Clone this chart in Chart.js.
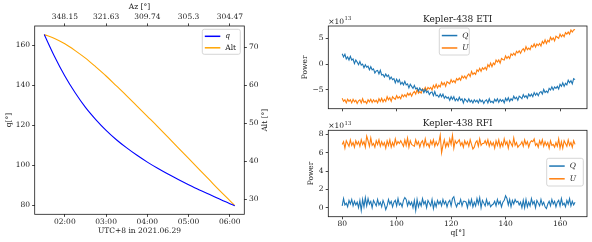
<!DOCTYPE html>
<html>
<head>
<meta charset="utf-8">
<script src="https://cdn.jsdelivr.net/npm/chart.js@4.4.1/dist/chart.umd.min.js"></script>
<style>
  body { margin: 0; background: #fff; }
  #wrap { position: relative; width: 592px; height: 242px; overflow: hidden; }
  canvas { position: absolute; }
</style>
</head>
<body>
<div id="wrap">
  <canvas id="track" width="300" height="242" style="left:0;top:0"></canvas>
  <canvas id="eti" width="292" height="121" style="left:300px;top:0"></canvas>
  <canvas id="rfi" width="292" height="132" style="left:300px;top:110px"></canvas>
</div>
<script>
// tracking of Kepler-438: local time (h), parallactic angle q (deg), altitude (deg)
const hours = [1.50, 1.75, 2.00, 2.25, 2.50, 2.75, 3.00, 3.25, 3.50, 3.75, 4.00, 4.25, 4.50, 4.75, 5.00, 5.25, 5.50, 5.75, 6.00, 6.12];
const qAngle = [165.5, 154.5, 144.7, 136.3, 129.0, 122.9, 117.5, 112.8, 108.7, 105.0, 101.6, 98.5, 95.6, 92.9, 90.3, 87.8, 85.5, 83.1, 80.8, 79.8];
const altDeg = [73.3, 72.3, 70.9, 69.1, 67.1, 64.8, 62.4, 59.8, 57.2, 54.5, 51.8, 49.1, 46.3, 43.5, 40.7, 37.9, 35.1, 32.3, 29.6, 28.3];
const hourTicks = [2, 3, 4, 5, 6];
const hourLabels = ["02:00", "03:00", "04:00", "05:00", "06:00"];
const azLabels = ["348.15", "321.63", "309.74", "305.3", "304.47"];

// Stokes power vs q, in units of 1e13
const qGrid = [
  80, 80.5, 81, 81.5, 82, 82.5, 83, 83.5, 84, 84.5, 85, 85.5, 86, 86.5, 87, 87.5, 88, 88.5, 89, 89.5,
  90, 90.5, 91, 91.5, 92, 92.5, 93, 93.5, 94, 94.5, 95, 95.5, 96, 96.5, 97, 97.5, 98, 98.5, 99, 99.5,
  100, 100.5, 101, 101.5, 102, 102.5, 103, 103.5, 104, 104.5, 105, 105.5, 106, 106.5, 107, 107.5, 108, 108.5, 109, 109.5,
  110, 110.5, 111, 111.5, 112, 112.5, 113, 113.5, 114, 114.5, 115, 115.5, 116, 116.5, 117, 117.5, 118, 118.5, 119, 119.5,
  120, 120.5, 121, 121.5, 122, 122.5, 123, 123.5, 124, 124.5, 125, 125.5, 126, 126.5, 127, 127.5, 128, 128.5, 129, 129.5,
  130, 130.5, 131, 131.5, 132, 132.5, 133, 133.5, 134, 134.5, 135, 135.5, 136, 136.5, 137, 137.5, 138, 138.5, 139, 139.5,
  140, 140.5, 141, 141.5, 142, 142.5, 143, 143.5, 144, 144.5, 145, 145.5, 146, 146.5, 147, 147.5, 148, 148.5, 149, 149.5,
  150, 150.5, 151, 151.5, 152, 152.5, 153, 153.5, 154, 154.5, 155, 155.5, 156, 156.5, 157, 157.5, 158, 158.5, 159, 159.5,
  160, 160.5, 161, 161.5, 162, 162.5, 163, 163.5, 164, 164.5, 165, 165.5];
const etiQ = [
  2.0, 1.4, 1.9, 1.0, 1.4, 0.8, 1.5, 0.8, 1.0, 0.1, 0.8, 0.4, -0.1, 0.5, -0.2, 0.0, -0.7, -0.1, -0.6, -0.4,
  -1.1, -0.5, -1.1, -0.9, -1.7, -1.3, -1.2, -1.9, -1.2, -2.1, -2.0, -2.5, -1.9, -2.4, -2.1, -2.9, -2.5, -3.0, -2.8, -3.6,
  -2.9, -3.5, -3.0, -3.9, -3.5, -4.0, -3.3, -4.0, -3.8, -4.6, -3.9, -4.3, -4.7, -4.1, -4.8, -4.6, -5.2, -4.6, -5.1, -4.9,
  -5.5, -4.9, -5.5, -5.2, -5.9, -5.5, -5.4, -6.1, -5.3, -6.1, -6.0, -6.4, -5.8, -6.3, -5.8, -6.6, -6.2, -6.6, -6.4, -7.0,
  -6.3, -6.8, -6.3, -7.1, -6.7, -7.1, -6.4, -7.0, -6.7, -7.5, -6.7, -7.0, -7.3, -6.7, -7.3, -7.0, -7.5, -6.9, -7.3, -7.0,
  -7.5, -6.8, -7.3, -7.0, -7.6, -7.1, -6.9, -7.5, -6.7, -7.4, -7.2, -7.5, -6.8, -7.2, -6.7, -7.4, -6.8, -7.2, -6.9, -7.5,
  -6.6, -7.1, -6.5, -7.2, -6.7, -7.0, -6.2, -6.7, -6.4, -7.0, -6.2, -6.4, -6.7, -5.9, -6.4, -6.1, -6.6, -5.8, -6.2, -5.8,
  -6.3, -5.5, -6.0, -5.6, -6.1, -5.5, -5.3, -5.8, -4.9, -5.5, -5.2, -5.5, -4.7, -5.0, -4.4, -5.0, -4.4, -4.7, -4.3, -4.8,
  -3.9, -4.3, -3.6, -4.3, -3.7, -4.0, -3.1, -3.6, -3.2, -3.8, -2.8, -3.0];
const etiU = [
  -6.6, -7.2, -6.9, -7.5, -6.8, -7.2, -6.9, -7.5, -6.8, -7.3, -7.0, -7.6, -7.1, -6.9, -7.5, -6.7, -7.4, -7.2, -7.6, -6.9,
  -7.3, -6.8, -7.4, -6.9, -7.3, -7.0, -7.5, -6.7, -7.2, -6.6, -7.3, -6.8, -7.2, -6.3, -6.9, -6.5, -7.2, -6.3, -6.6, -6.8,
  -6.1, -6.6, -6.3, -6.7, -5.9, -6.3, -5.9, -6.3, -5.6, -6.0, -5.6, -6.2, -5.6, -5.3, -5.8, -4.9, -5.6, -5.3, -5.6, -4.8,
  -5.1, -4.5, -5.1, -4.5, -4.8, -4.5, -5.0, -4.1, -4.6, -3.9, -4.6, -4.1, -4.4, -3.5, -4.0, -3.6, -4.3, -3.4, -3.6, -3.8,
  -3.0, -3.5, -3.2, -3.6, -2.8, -3.1, -2.7, -3.1, -2.3, -2.7, -2.3, -2.8, -2.2, -1.9, -2.4, -1.4, -2.0, -1.7, -2.0, -1.1,
  -1.4, -0.8, -1.4, -0.7, -1.0, -0.6, -1.1, -0.1, -0.5, 0.2, -0.5, 0.2, -0.1, 0.8, 0.4, 0.8, 0.2, 1.1, 0.9, 0.8,
  1.6, 1.1, 1.5, 1.1, 2.0, 1.7, 2.1, 1.7, 2.5, 2.2, 2.6, 2.1, 2.7, 3.0, 2.5, 3.4, 2.8, 3.1, 2.8, 3.6,
  3.3, 3.9, 3.3, 3.9, 3.6, 4.0, 3.5, 4.4, 4.0, 4.7, 4.0, 4.6, 4.3, 5.2, 4.7, 5.1, 4.5, 5.4, 5.2, 5.0,
  5.8, 5.3, 5.7, 5.3, 6.1, 5.8, 6.2, 5.8, 6.6, 6.2, 6.6, 6.7];
const rfiQ = [
  0.2, 1.0, 0.3, 0.5, 0.1, 0.8, 0.4, 0.9, 0.2, 0.7, 0.3, 0.6, 0.0, 0.8, -0.3, 0.9, 0.1, 1.1, 0.2, 1.0,
  0.4, 0.7, 0.0, 0.8, 0.5, 0.2, 0.9, 0.3, 0.6, 0.1, 0.8, 0.4, -0.2, 0.2, 0.9, 0.4, 0.7, 0.1, 0.6, 0.8,
  0.2, 1.0, 0.3, 0.5, 0.1, 0.8, 1.1, 0.9, 0.2, 0.7, 0.3, 0.6, 0.0, 0.8, -0.3, 0.9, 0.1, 0.6, 0.2, 1.0,
  0.4, 0.7, 0.0, 0.8, 0.5, 0.2, 0.9, -0.1, 0.6, 0.1, 0.8, 0.4, 0.7, 0.2, 0.9, 0.4, 0.7, 0.1, 0.6, 0.8,
  0.2, 1.0, 1.2, 0.5, 0.1, 0.5, 0.4, 0.9, 0.2, 0.7, 0.7, 0.6, 0.0, 0.8, 0.3, 0.9, 0.1, 0.6, 0.2, 1.0,
  0.4, 1.1, 0.0, 0.8, 0.5, 0.2, 0.9, 0.3, 0.6, 0.1, 0.3, 0.4, 0.7, 0.2, 0.9, 0.4, 0.7, 0.1, 0.6, 0.8,
  1.3, 1.0, 0.3, 0.9, 0.1, 0.8, 0.4, 0.9, 0.6, 0.7, 0.3, 0.6, 0.0, 0.8, 0.0, 0.9, 0.1, 0.6, 0.2, 1.0,
  0.4, 0.7, 0.0, 0.8, 0.5, 0.2, 0.9, 0.3, 0.6, 0.1, -0.1, 0.4, 0.7, 0.2, 0.9, 0.4, 0.7, 0.1, 0.6, 0.8,
  0.2, 1.0, 0.3, 0.5, 0.1, 0.8, 0.4, 1.0, 0.2, 0.7, 0.3, 0.6];
const rfiU = [
  6.9, 7.2, 6.5, 7.3, 7.0, 6.7, 7.4, 6.8, 7.1, 6.6, 7.3, 6.9, 7.2, 6.7, 7.4, 6.9, 7.2, 6.6, 7.8, 7.3,
  6.7, 7.6, 6.8, 7.0, 6.6, 7.3, 6.9, 7.4, 6.7, 7.2, 6.8, 7.1, 6.5, 7.3, 6.8, 7.4, 6.6, 7.1, 6.7, 7.5,
  6.9, 7.2, 7.0, 7.3, 7.0, 6.7, 7.4, 6.8, 7.6, 6.6, 7.3, 6.9, 6.8, 6.7, 7.4, 6.9, 7.2, 6.6, 7.1, 7.3,
  6.7, 7.5, 6.8, 7.0, 6.6, 7.3, 6.9, 7.4, 6.7, 7.2, 6.8, 7.1, 7.9, 6.0, 6.8, 7.4, 6.6, 7.1, 6.7, 7.5,
  6.9, 7.9, 6.5, 7.3, 7.0, 7.2, 7.4, 6.8, 7.1, 6.6, 7.3, 6.9, 7.2, 6.7, 7.4, 6.9, 6.4, 6.6, 7.1, 7.3,
  6.7, 7.5, 6.8, 7.0, 7.0, 7.3, 6.9, 7.4, 6.7, 7.2, 6.8, 7.1, 6.5, 7.3, 6.8, 7.4, 6.6, 7.1, 6.7, 7.5,
  6.9, 7.2, 6.5, 7.3, 7.0, 6.7, 7.6, 6.8, 7.1, 6.6, 6.8, 6.9, 7.2, 6.7, 7.4, 6.9, 7.2, 6.6, 7.1, 7.3,
  7.2, 7.5, 6.8, 7.0, 6.6, 7.3, 6.9, 7.4, 6.7, 7.2, 6.8, 7.1, 6.5, 7.3, 6.8, 6.9, 6.6, 7.1, 6.7, 7.5,
  6.5, 7.2, 6.5, 7.3, 7.0, 6.7, 7.4, 6.8, 7.1, 6.6, 7.3, 6.9];
const qTicks = [80, 100, 120, 140, 160];

const FONT = "DejaVu Serif";
const INK = "#1a1a1a";
const tickFont = { family: FONT, size: 7.5, lineHeight: 1 };
const labelFont = { family: FONT, size: 7.5 };
const tickMarks = { drawOnChartArea: false, drawTicks: true, tickLength: 2.6, tickColor: INK, tickWidth: 0.8 };
const pts = (xs, ys) => xs.map((x, i) => ({ x: x, y: ys[i] }));
const fixTicks = (vals) => (s) => { s.ticks = vals.map((v) => ({ value: v })); };
const minus = (v) => (v < 0 ? "\u2212" + Math.abs(v) : String(v));

//frame round the plot area, matplotlib style
function frame(chart) {
  const { ctx, chartArea: a } = chart;
  ctx.save();
  ctx.strokeStyle = INK;
  ctx.lineWidth = 0.8;
  ctx.strokeRect(a.left, a.top, a.right - a.left, a.bottom - a.top);
  ctx.restore();
}

//legend box inside the axes
function legend(chart, box) {
  const ctx = chart.ctx;
  ctx.save();
  ctx.beginPath();
  ctx.roundRect(box.x, box.y, box.w, box.h, 2);
  ctx.fillStyle = "rgba(255,255,255,0.8)";
  ctx.fill();
  ctx.strokeStyle = "#cccccc";
  ctx.lineWidth = 0.8;
  ctx.stroke();
  const rows = [box.y + box.h * 0.28, box.y + box.h * 0.74];
  chart.data.datasets.forEach((ds, i) => {
    ctx.strokeStyle = ds.borderColor;
    ctx.lineWidth = 1.5;
    ctx.beginPath();
    ctx.moveTo(box.x + 2.5, rows[i]);
    ctx.lineTo(box.x + 18, rows[i]);
    ctx.stroke();
    ctx.fillStyle = INK;
    ctx.font = (ds.label.length === 1 ? "italic " : "") + "7.5px '" + FONT + "'";
    ctx.textAlign = "left";
    ctx.textBaseline = "middle";
    ctx.fillText(ds.label, box.x + 23, rows[i]);
  });
  ctx.restore();
}

//title and offset text of the right panels
function panelTop(chart, title) {
  const { ctx, chartArea: a } = chart;
  ctx.save();
  ctx.fillStyle = INK;
  ctx.font = "9px '" + FONT + "'";
  ctx.textAlign = "center";
  ctx.textBaseline = "alphabetic";
  ctx.fillText(title, (a.left + a.right) / 2, a.top - 4.5);
  ctx.font = "7.5px '" + FONT + "'";
  ctx.textAlign = "left";
  ctx.fillText("\u00d710", a.left, a.top - 2.5);
  const w = ctx.measureText("\u00d710").width;
  ctx.font = "5.3px '" + FONT + "'";
  ctx.fillText("13", a.left + w + 0.4, a.top - 5.6);
  ctx.restore();
}

const baseOpts = {
  responsive: false,
  animation: false,
  devicePixelRatio: 1,
  elements: { point: { radius: 0 }, line: { borderWidth: 1.1 } },
  plugins: { legend: { display: false }, tooltip: { enabled: false } },
};

//left panel: q and altitude against time
new Chart(document.getElementById("track"), {
  type: "line",
  data: {
    datasets: [
      { label: "q", data: pts(hours, qAngle), borderColor: "#0000ff", yAxisID: "y", cubicInterpolationMode: "monotone" },
      { label: "Alt", data: pts(hours, altDeg), borderColor: "#ffa500", yAxisID: "y1", cubicInterpolationMode: "monotone" },
    ],
  },
  options: {
    ...baseOpts,
    layout: { padding: 0 },
    scales: {
      x: {
        type: "linear", position: "bottom", min: 1.269, max: 6.351,
        afterBuildTicks: fixTicks(hourTicks), afterFit: (s) => { s.height = 27.7; },
        ticks: { font: tickFont, color: INK, padding: 1, maxRotation: 0, callback: (v, i) => hourLabels[i] },
        grid: tickMarks, border: { display: false },
        title: { display: true, text: "UTC+8 in 2021.06.29", font: labelFont, color: INK, padding: { top: 0, bottom: 6.5 } },
      },
      x2: {
        type: "linear", position: "top", min: 1.269, max: 6.351,
        afterBuildTicks: fixTicks(hourTicks), afterFit: (s) => { s.height = 26; },
        ticks: { font: tickFont, color: INK, padding: 2.9, maxRotation: 0, callback: (v, i) => azLabels[i] },
        grid: tickMarks, border: { display: false },
        title: { display: true, text: "Az [\u00b0]", font: labelFont, color: INK, padding: { top: 2.2, bottom: 0 } },
      },
      y: {
        position: "left", min: 75.47, max: 169.75,
        afterBuildTicks: fixTicks([80, 100, 120, 140, 160]), afterFit: (s) => { s.width = 34.7; },
        ticks: { font: tickFont, color: INK, padding: 2.1 },
        grid: tickMarks, border: { display: false },
        title: { display: true, text: "q[\u00b0]", font: labelFont, color: INK, padding: { top: 4.5, bottom: 0 } },
      },
      y1: {
        position: "right", min: 26.0, max: 75.57,
        afterBuildTicks: fixTicks([30, 40, 50, 60, 70]), afterFit: (s) => { s.width = 55.7; },
        ticks: { font: tickFont, color: INK, padding: 2.1 },
        grid: tickMarks, border: { display: false },
      },
    },
  },
  plugins: [{
    id: "decor",
    afterDraw(chart) {
      frame(chart);
      const { ctx, chartArea: a } = chart;
      ctx.save();
      ctx.fillStyle = INK;
      ctx.font = "7.5px '" + FONT + "'";
      ctx.translate(265, (a.top + a.bottom) / 2);
      ctx.rotate(-Math.PI / 2);
      ctx.textAlign = "center";
      ctx.textBaseline = "middle";
      ctx.fillText("Alt [\u00b0]", 0, 0);
      ctx.restore();
      legend(chart, { x: 202.3, y: 29.3, w: 38, h: 25 });
    },
  }],
});

//right panels share the same q axis
function stokesChart(id, title, q, u, yMin, yMax, yTicks, bottom, box) {
  return new Chart(document.getElementById(id), {
    type: "line",
    data: {
      datasets: [
        { label: "Q", data: pts(qGrid, q), borderColor: "#1f77b4" },
        { label: "U", data: pts(qGrid, u), borderColor: "#ff7f0e" },
      ],
    },
    options: {
      ...baseOpts,
      layout: { padding: { top: bottom.top, right: 5, bottom: bottom.pad, left: 0 } },
      scales: {
        x: {
          type: "linear", min: 74.9, max: 169.9,
          afterBuildTicks: fixTicks(qTicks), afterFit: (s) => { s.height = bottom.axis; },
          ticks: { display: bottom.labels, font: tickFont, color: INK, padding: 1, maxRotation: 0 },
          grid: tickMarks, border: { display: false },
          title: { display: bottom.labels, text: "q[\u00b0]", font: labelFont, color: INK, padding: { top: 0, bottom: 4.8 } },
        },
        y: {
          min: yMin, max: yMax,
          afterBuildTicks: fixTicks(yTicks), afterFit: (s) => { s.width = 28.3; },
          ticks: { font: tickFont, color: INK, padding: 2.2, callback: minus },
          grid: tickMarks, border: { display: false },
          title: { display: true, text: "Power", font: labelFont, color: INK, padding: { top: bottom.powerPad, bottom: 0 } },
        },
      },
    },
    plugins: [{
      id: "decor",
      afterDraw(chart) {
        frame(chart);
        panelTop(chart, title);
        legend(chart, box);
      },
    }],
  });
}

stokesChart("eti", "Kepler-438 ETI", etiQ, etiU, -8.62, 7.38, [-5, 0, 5],
  { top: 26, pad: 12.3, axis: 0, labels: false, powerPad: 0.5 },
  { x: 139.3, y: 28, w: 30, h: 27 });
stokesChart("rfi", "Kepler-438 RFI", rfiQ, rfiU, -0.98, 8.44, [0, 2, 4, 6, 8],
  { top: 20.3, pad: 0, axis: 25.3, labels: true, powerPad: 6.5 },
  { x: 246.7, y: 48.3, w: 36.6, h: 27.7 });
</script>
</body>
</html>
